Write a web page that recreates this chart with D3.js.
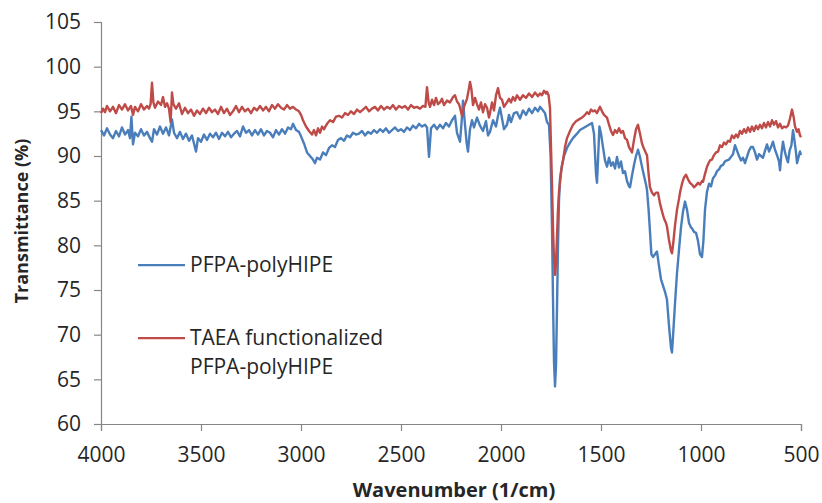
<!DOCTYPE html>
<html>
<head>
<meta charset="utf-8">
<script src="https://cdn.jsdelivr.net/npm/d3@7/dist/d3.min.js"></script>
<style>
  html, body { margin: 0; padding: 0; background: #fff; }
  svg { display: block; }
  text { font-family: "Open Sans", "Noto Sans", sans-serif; }
</style>
</head>
<body>
<svg id="chart" width="822" height="503"></svg>
<script>
// ---- data ----
const seriesNames = ["PFPA-polyHIPE", "TAEA functionalized PFPA-polyHIPE"];
const xTicks = [4000, 3500, 3000, 2500, 2000, 1500, 1000, 500];
const yTicks = [60, 65, 70, 75, 80, 85, 90, 95, 100, 105];

// PFPA-polyHIPE : [wavenumber, transmittance]
const pfpa = [
[4000,92.9],[3985,92.3],[3970,93.1],[3955,92.4],[3940,92.0],[3925,92.8],[3910,92.2],[3895,93.2],[3880,92.4],[3865,92.9],
[3855,92.0],[3848,94.4],[3840,91.3],[3830,92.6],[3815,92.2],[3800,93.0],[3785,92.3],[3770,92.7],[3755,92.0],[3745,91.6],
[3735,93.0],[3720,92.4],[3705,93.3],[3690,92.5],[3675,93.2],[3660,92.3],[3645,94.1],[3635,92.6],[3620,92.0],[3605,92.7],
[3590,91.9],[3575,92.5],[3560,91.7],[3545,92.3],[3525,90.5],[3515,92.0],[3500,91.6],[3485,92.4],[3470,91.8],[3455,92.5],
[3440,92.1],[3425,92.6],[3410,91.9],[3395,92.6],[3380,92.2],[3365,92.7],[3350,92.1],[3335,92.5],[3320,92.8],[3305,92.2],
[3290,93.3],[3275,92.6],[3260,92.9],[3245,92.3],[3230,92.9],[3215,92.4],[3200,93.0],[3185,92.3],[3170,92.8],[3155,92.6],
[3140,92.1],[3125,92.9],[3110,92.4],[3095,93.0],[3080,92.5],[3065,93.2],[3050,93.0],[3040,93.6],[3025,92.9],[3010,92.7],
[3000,92.2],[2985,91.4],[2970,90.4],[2955,90.0],[2940,89.6],[2930,89.2],[2920,89.8],[2905,89.6],[2890,90.4],[2875,90.1],
[2860,90.9],[2845,91.2],[2830,91.0],[2815,91.8],[2800,92.0],[2785,91.7],[2770,92.3],[2755,92.1],[2740,92.6],[2725,92.4],
[2710,92.5],[2695,92.8],[2680,92.3],[2665,92.7],[2650,92.5],[2635,92.9],[2620,92.6],[2605,93.0],[2590,92.7],[2575,93.1],
[2560,92.6],[2545,92.9],[2530,93.2],[2515,92.8],[2500,93.0],[2485,92.7],[2470,93.2],[2455,92.9],[2440,93.4],[2425,93.1],
[2410,93.6],[2395,93.3],[2380,93.5],[2370,93.2],[2360,89.9],[2350,93.1],[2335,93.5],[2320,93.0],[2305,93.5],[2290,93.1],
[2275,93.7],[2260,93.3],[2245,94.0],[2230,94.5],[2220,92.6],[2205,91.6],[2197,93.8],[2190,96.2],[2182,94.0],[2172,91.5],
[2165,90.5],[2155,93.0],[2145,94.0],[2135,93.2],[2120,94.3],[2105,93.4],[2090,92.8],[2075,93.9],[2065,92.3],[2055,92.7],
[2040,94.0],[2025,93.3],[2015,94.5],[2005,95.4],[1995,94.2],[1985,93.0],[1970,93.5],[1960,94.6],[1950,93.8],[1935,94.8],
[1920,94.9],[1905,94.2],[1890,95.1],[1875,94.6],[1860,95.3],[1845,94.8],[1830,95.4],[1815,95.0],[1805,95.5],[1790,95.1],
[1780,94.8],[1770,93.8],[1760,93.5],[1752,90.0],[1745,82.0],[1740,74.0],[1735,67.0],[1730,64.2],[1725,66.5],[1720,73.0],
[1715,80.0],[1710,85.0],[1705,87.5],[1695,89.0],[1685,90.0],[1670,90.9],[1655,91.5],[1640,92.0],[1620,92.5],[1605,92.9],
[1590,93.1],[1575,93.3],[1560,93.5],[1545,93.7],[1535,92.5],[1525,88.0],[1520,87.0],[1515,89.5],[1508,93.3],[1500,92.5],
[1490,91.0],[1480,89.5],[1470,88.8],[1460,89.8],[1450,88.9],[1440,89.3],[1430,88.6],[1420,89.9],[1410,88.7],[1400,89.4],
[1390,88.1],[1380,88.3],[1370,87.2],[1360,86.6],[1355,86.5],[1345,87.8],[1335,89.0],[1325,90.0],[1315,90.7],[1305,89.9],
[1295,88.8],[1285,87.8],[1275,86.8],[1270,86.2],[1262,84.0],[1255,81.5],[1248,79.0],[1240,78.7],[1230,79.0],[1220,79.3],
[1212,78.0],[1200,76.2],[1190,75.5],[1180,74.8],[1170,73.9],[1160,71.0],[1150,68.5],[1145,68.0],[1138,70.5],[1130,73.5],
[1120,76.9],[1110,79.5],[1100,82.0],[1090,83.8],[1080,84.9],[1070,84.0],[1060,82.5],[1050,82.0],[1045,81.9],[1035,81.5],
[1025,81.4],[1015,80.5],[1005,79.0],[995,78.7],[988,80.5],[980,84.0],[970,86.0],[960,86.9],[950,86.6],[940,87.5],
[930,87.8],[920,88.3],[910,88.5],[900,88.9],[890,89.0],[880,89.4],[870,89.5],[860,89.6],[850,89.9],[840,90.2],
[830,91.2],[820,90.6],[810,90.0],[800,89.5],[790,89.8],[780,89.2],[770,89.9],[760,90.6],[750,91.0],[740,91.0],
[730,90.4],[720,89.6],[710,90.2],[700,90.0],[690,89.8],[680,90.6],[670,91.3],[660,90.5],[650,91.0],[640,91.6],
[630,90.7],[620,90.1],[610,89.4],[605,88.4],[598,90.2],[590,91.6],[580,90.4],[570,89.6],[565,89.3],[557,90.6],
[548,91.2],[540,92.9],[533,91.8],[525,90.4],[520,89.2],[513,89.8],[505,90.5],[500,90.1]
];

// TAEA functionalized PFPA-polyHIPE : [wavenumber, transmittance]
const taea = [
[4000,94.8],[3990,95.3],[3980,94.9],[3970,95.6],[3955,95.0],[3940,95.5],[3925,94.8],[3910,95.7],[3895,95.2],[3880,95.8],
[3865,95.1],[3850,95.6],[3840,94.6],[3830,95.5],[3815,95.0],[3800,95.8],[3785,95.2],[3770,95.6],[3760,95.3],[3752,95.8],
[3745,98.2],[3738,96.0],[3730,95.4],[3715,96.1],[3700,95.7],[3690,96.6],[3680,95.5],[3670,95.9],[3660,95.3],[3652,93.8],
[3645,97.1],[3638,95.8],[3625,95.3],[3610,95.9],[3595,94.7],[3580,95.4],[3565,94.8],[3550,95.2],[3535,94.5],[3520,95.1],
[3505,94.7],[3490,95.3],[3475,94.8],[3460,95.4],[3445,94.9],[3430,95.2],[3415,94.7],[3400,95.5],[3385,94.8],[3370,95.3],
[3355,94.6],[3340,95.0],[3325,95.6],[3310,94.9],[3295,95.5],[3280,95.0],[3265,95.3],[3250,94.8],[3235,95.4],[3220,95.1],
[3205,95.6],[3190,95.1],[3175,95.5],[3160,95.0],[3145,95.7],[3130,95.3],[3115,95.8],[3100,95.4],[3085,95.2],[3070,95.7],
[3055,95.3],[3040,95.5],[3025,95.2],[3010,95.0],[3000,94.6],[2990,94.0],[2975,93.3],[2960,92.8],[2945,92.4],[2935,92.9],
[2925,92.3],[2915,93.1],[2905,92.6],[2895,93.3],[2885,93.0],[2870,93.6],[2855,94.0],[2840,93.8],[2825,94.4],[2810,94.5],
[2795,94.3],[2780,94.8],[2765,94.6],[2750,95.0],[2735,94.7],[2720,95.2],[2705,94.9],[2690,95.2],[2675,95.5],[2660,95.0],
[2645,95.3],[2630,95.5],[2615,95.1],[2600,95.6],[2585,95.2],[2570,95.5],[2555,95.3],[2540,95.7],[2525,95.2],[2510,95.6],
[2495,95.4],[2480,95.6],[2465,95.2],[2450,95.7],[2435,95.4],[2420,95.5],[2405,95.3],[2390,95.6],[2378,95.5],[2370,97.7],
[2362,96.0],[2355,95.5],[2345,96.3],[2335,95.7],[2325,96.5],[2315,95.8],[2305,96.0],[2295,96.4],[2285,95.7],[2270,96.2],
[2255,96.0],[2240,96.6],[2230,96.8],[2220,96.1],[2210,95.8],[2205,95.4],[2195,94.5],[2185,95.5],[2170,96.4],[2160,97.6],
[2155,98.3],[2148,97.5],[2140,95.7],[2130,96.5],[2120,95.8],[2110,95.2],[2100,96.0],[2090,94.9],[2080,95.8],[2070,95.4],
[2060,94.3],[2055,94.8],[2045,96.0],[2035,95.1],[2025,96.8],[2015,97.6],[2005,96.5],[1995,96.3],[1985,95.5],[1970,96.0],
[1960,96.4],[1950,96.0],[1940,96.6],[1930,96.2],[1920,96.8],[1905,96.3],[1890,96.8],[1875,96.5],[1860,97.0],[1845,96.6],
[1830,97.1],[1815,96.7],[1805,97.0],[1795,96.8],[1785,97.3],[1775,97.0],[1770,97.2],[1762,96.8],[1755,95.4],[1750,91.0],
[1745,86.8],[1740,82.0],[1735,78.5],[1730,76.7],[1725,78.0],[1720,81.0],[1715,84.0],[1710,86.0],[1705,87.0],[1698,88.5],
[1690,89.5],[1680,91.0],[1670,92.0],[1655,92.8],[1640,93.5],[1625,93.9],[1610,94.1],[1595,94.3],[1580,94.6],[1570,94.9],
[1560,94.7],[1550,95.2],[1540,95.0],[1530,95.1],[1520,94.8],[1510,95.3],[1505,95.5],[1495,95.0],[1485,94.6],[1470,94.3],
[1460,93.5],[1450,92.8],[1440,92.35],[1430,92.9],[1420,92.6],[1410,93.1],[1400,92.6],[1390,92.8],[1380,92.0],[1370,91.8],
[1360,91.0],[1350,90.6],[1345,90.4],[1335,91.8],[1325,93.0],[1315,93.5],[1305,92.5],[1295,91.4],[1285,90.8],[1275,90.3],
[1270,90.1],[1262,88.0],[1255,86.5],[1245,85.9],[1235,85.6],[1225,85.9],[1215,85.9],[1205,84.7],[1195,83.8],[1185,83.0],
[1175,82.5],[1170,82.1],[1160,80.6],[1150,79.4],[1145,79.1],[1138,80.4],[1130,82.2],[1120,84.0],[1110,85.2],[1105,85.9],
[1095,86.9],[1085,87.6],[1075,87.9],[1065,87.4],[1055,87.0],[1045,86.8],[1035,86.5],[1025,86.7],[1015,87.0],[1005,86.8],
[995,87.2],[990,87.1],[980,88.0],[970,88.8],[960,89.3],[955,89.5],[945,89.6],[935,90.1],[925,90.4],[915,90.5],
[905,91.2],[895,91.0],[885,91.5],[875,91.3],[865,91.7],[855,91.6],[845,92.3],[835,92.0],[825,92.4],[815,92.1],
[805,92.8],[795,92.5],[785,93.0],[775,92.6],[765,93.2],[755,92.7],[745,93.3],[735,92.8],[725,93.4],[715,93.0],
[705,93.5],[695,93.1],[685,93.7],[675,93.2],[665,93.8],[655,93.3],[645,94.0],[635,93.5],[625,93.9],[615,93.2],
[605,93.6],[595,93.1],[585,93.3],[575,93.2],[565,93.4],[555,94.2],[545,95.2],[537,94.4],[530,93.3],[520,92.7],
[512,93.0],[505,92.3],[500,92.1]
];

// ---- drawing ----
const svg = d3.select("#chart");
const margin = {left: 101, right: 21, top: 22, bottom: 79};
const W = 822, H = 503;
const x = d3.scaleLinear().domain([4000, 500]).range([margin.left, W - margin.right]);
const y = d3.scaleLinear().domain([60, 105]).range([H - margin.bottom, margin.top]);

const axisColor = "#868686";
const textColor = "#262626";

const yAxis = svg.append("g")
  .attr("transform", `translate(${margin.left},0)`)
  .call(d3.axisLeft(y).tickValues(yTicks).tickSize(7).tickPadding(13).tickFormat(d3.format("d")));
const xAxis = svg.append("g")
  .attr("transform", `translate(0,${H - margin.bottom})`)
  .call(d3.axisBottom(x).tickValues(xTicks).tickSize(7).tickPadding(16).tickFormat(d3.format("d")));

[yAxis, xAxis].forEach(g => {
  g.select(".domain").attr("stroke", axisColor).attr("stroke-width", 1.2);
  g.selectAll(".tick line").attr("stroke", axisColor).attr("stroke-width", 1.2);
  g.selectAll(".tick text").attr("fill", textColor).style("font-size", "21px").style("font-family", "'Open Sans', sans-serif");
});

const line = d3.line().x(d => x(d[0])).y(d => y(d[1])).curve(d3.curveLinear);

const colors = ["#4A7EBB", "#BE4B48"];
[pfpa, taea].forEach((s, i) => {
  svg.append("path").datum(s)
    .attr("fill", "none")
    .attr("stroke", colors[i])
    .attr("stroke-width", 2.4)
    .attr("stroke-linejoin", "round")
    .attr("d", line);
});

// axis titles
svg.append("text")
  .attr("x", 454).attr("y", 497)
  .attr("text-anchor", "middle")
  .attr("fill", textColor)
  .style("font-size", "20px").style("font-weight", "bold")
  .text("Wavenumber (1/cm)");
svg.append("text")
  .attr("transform", "translate(28,221) rotate(-90)")
  .attr("text-anchor", "middle")
  .attr("fill", textColor)
  .style("font-size", "18px").style("font-weight", "bold")
  .text("Transmittance (%)");

// legend
const legend = svg.append("g");
const legendItems = [
  {lines: ["PFPA-polyHIPE"], y: 265},
  {lines: ["TAEA functionalized", "PFPA-polyHIPE"], y: 338}
];
legendItems.forEach((it, i) => {
  legend.append("line")
    .attr("x1", 138).attr("x2", 185)
    .attr("y1", it.y).attr("y2", it.y)
    .attr("stroke", colors[i]).attr("stroke-width", 2.25);
  it.lines.forEach((t, j) => {
    legend.append("text")
      .attr("x", 190).attr("y", it.y + j * 29)
      .attr("dy", "0.35em")
      .attr("fill", textColor)
      .style("font-size", "21px")
      .text(t);
  });
});
</script>
</body>
</html>
